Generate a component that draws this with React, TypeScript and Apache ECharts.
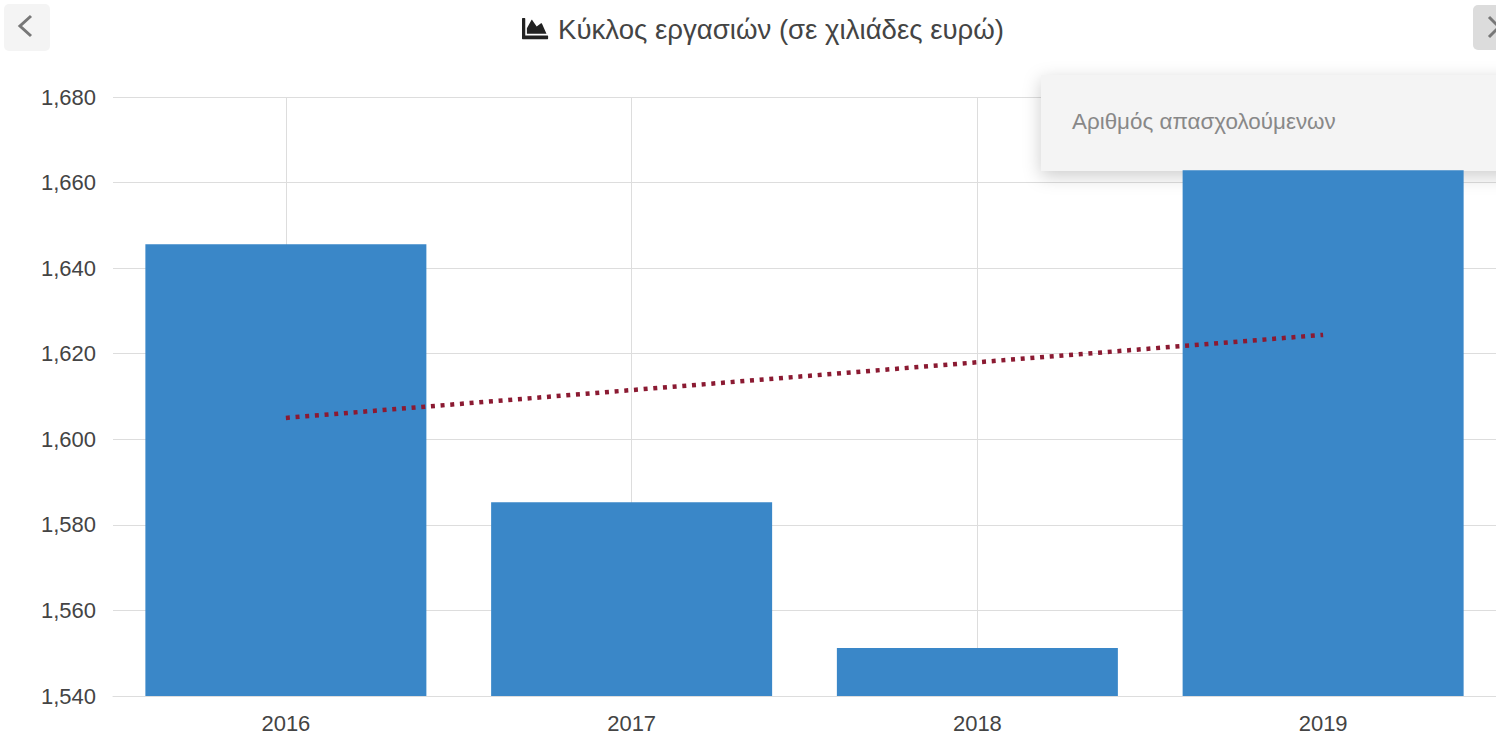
import React, { useEffect, useRef } from "react";
import * as echarts from "echarts";

const titleText = "Κύκλος εργασιών (σε χιλιάδες ευρώ)";
const popupText = "Αριθμός απασχολούμενων";
const years = ["2016", "2017", "2018", "2019"];
const barValues = [1645.6, 1585.3, 1551.2, 1662.9];
const lineValues = [1605, 1611.5, 1618, 1624.4];

const FONT = "'Liberation Sans', Arial, sans-serif";

echarts.graphic.registerShape(
  "chartAreaIcon",
  echarts.graphic.extendPath(
    "M500 384c6.6 0 12 5.4 12 12v40c0 6.6-5.4 12-12 12H12c-6.6 0-12-5.4-12-12V76c0-6.6 5.4-12 12-12h40c6.6 0 12 5.4 12 12v308h436zM372.7 159.5L288 216l-85.3-113.7c-5.1-6.8-15.5-6.3-19.9 1L96 248v104h384l-89.9-187.8c-3.2-6.5-11.4-8.7-17.4-4.7z",
    {}
  ) as any
);

export default function App() {
  const ref = useRef<HTMLDivElement>(null);
  useEffect(() => {
    const chart = echarts.init(ref.current!, undefined, { renderer: "svg" });
    chart.setOption({
      animation: false,
      backgroundColor: "#ffffff",
      title: {
        text: titleText,
        left: 558,
        top: 15,
        padding: 0,
        textStyle: { fontFamily: FONT, fontSize: 27.6, fontWeight: "normal", color: "#444444" },
      },
      grid: { left: 113, right: 0, top: 97, bottom: 38 },
      xAxis: {
        type: "category",
        data: years,
        axisTick: { show: false },
        axisLine: { lineStyle: { color: "#dddddd", width: 1 } },
        axisLabel: { color: "#444444", fontFamily: FONT, fontSize: 22, margin: 16 },
        splitLine: { show: true, alignWithLabel: true, lineStyle: { color: "#dddddd", width: 1 } },
      },
      yAxis: {
        type: "value",
        min: 1540,
        max: 1680,
        interval: 20,
        axisLine: { show: false },
        axisTick: { show: false },
        axisLabel: {
          color: "#444444",
          fontFamily: FONT,
          fontSize: 22,
          margin: 17,
          formatter: (v: number) => v.toLocaleString("en-US"),
        },
        splitLine: { lineStyle: { color: "#dddddd", width: 1 } },
      },
      series: [
        {
          type: "bar",
          data: barValues,
          barWidth: 281,
          z: 3,
          itemStyle: { color: "#3a87c8" },
        },
        {
          type: "line",
          data: lineValues,
          z: 4,
          symbol: "none",
          lineStyle: { color: "#8b1a32", width: 4.5, type: [4, 5.7] },
        },
      ],
      graphic: [
        { type: "rect", z: 1, shape: { x: 4, y: 4, width: 46, height: 47, r: 5 }, style: { fill: "#f4f4f4" } },
        { type: "polyline", z: 2, shape: { points: [[31, 16], [20, 26], [31, 36]] }, style: { stroke: "#777777", fill: "none", lineWidth: 3 } },
        { type: "rect", z: 1, shape: { x: 1473, y: 5, width: 40, height: 45, r: 5 }, style: { fill: "#dcdcdc" } },
        { type: "polyline", z: 2, shape: { points: [[1489, 17], [1499, 27], [1489, 37]] }, style: { stroke: "#777777", fill: "none", lineWidth: 3 } },
        { type: "chartAreaIcon", z: 2, x: 522, y: 14.5, scaleX: 0.051, scaleY: 0.055, style: { fill: "#222222" } },
        {
          type: "rect",
          z: 1,
          shape: { x: 1041, y: 75, width: 480, height: 96 },
          style: { fill: "#f4f4f4", shadowBlur: 18, shadowColor: "rgba(0,0,0,0.2)", shadowOffsetY: 5 },
        },
        {
          type: "text",
          z: 2,
          x: 1072,
          y: 110,
          style: { text: popupText, fill: "#888888", fontFamily: FONT, fontSize: 22.4 },
        },
      ],
    });
    return () => chart.dispose();
  }, []);
  return <div ref={ref} style={{ position: "absolute", left: 0, top: 0, width: 1496, height: 734 }} />;
}
